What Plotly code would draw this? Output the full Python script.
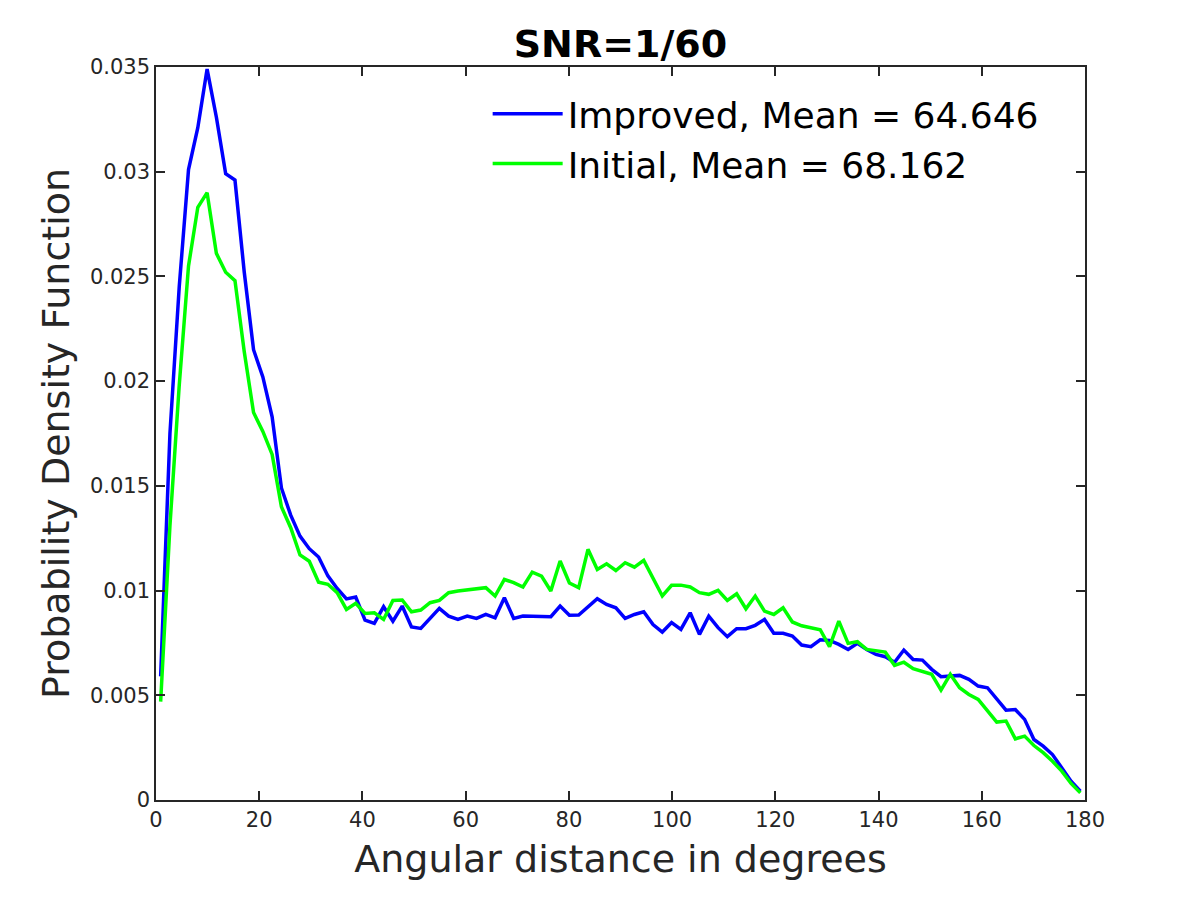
import plotly.graph_objects as go

# bin centres (degrees), 100 bins of 1.8 degrees
angles = [0.9, 2.7, 4.5, 6.3, 8.1, 9.9, 11.7, 13.5, 15.3, 17.1,
          18.9, 20.7, 22.5, 24.3, 26.1, 27.9, 29.7, 31.5, 33.3, 35.1,
          36.9, 38.7, 40.5, 42.3, 44.1, 45.9, 47.7, 49.5, 51.3, 53.1,
          54.9, 56.7, 58.5, 60.3, 62.1, 63.9, 65.7, 67.5, 69.3, 71.1,
          72.9, 74.7, 76.5, 78.3, 80.1, 81.9, 83.7, 85.5, 87.3, 89.1,
          90.9, 92.7, 94.5, 96.3, 98.1, 99.9, 101.7, 103.5, 105.3, 107.1,
          108.9, 110.7, 112.5, 114.3, 116.1, 117.9, 119.7, 121.5, 123.3, 125.1,
          126.9, 128.7, 130.5, 132.3, 134.1, 135.9, 137.7, 139.5, 141.3, 143.1,
          144.9, 146.7, 148.5, 150.3, 152.1, 153.9, 155.7, 157.5, 159.3, 161.1,
          162.9, 164.7, 166.5, 168.3, 170.1, 171.9, 173.7, 175.5, 177.3, 179.1]

improved = [0.0059, 0.0175, 0.0245, 0.0301, 0.0321, 0.0349, 0.0326, 0.0299, 0.0296, 0.0252,
            0.0215, 0.0202, 0.0183, 0.0149, 0.0136, 0.0126, 0.0120, 0.0116, 0.0107, 0.0101,
            0.0096, 0.00969, 0.00859, 0.00843, 0.00923, 0.00854, 0.00926, 0.00826, 0.00819, 0.0087,
            0.00915, 0.00878, 0.00862, 0.00878, 0.00867, 0.00886, 0.0087, 0.00966, 0.00867, 0.00878,
            0.00878, 0.00875, 0.00875, 0.00926, 0.00882, 0.00883, 0.00923, 0.00961, 0.00934, 0.00918,
            0.00867, 0.00886, 0.00899, 0.00838, 0.00802, 0.00847, 0.00815, 0.00894, 0.00791, 0.00878,
            0.00823, 0.0078, 0.00818, 0.00818, 0.00834, 0.00862, 0.00796, 0.00796, 0.00783, 0.0074,
            0.00732, 0.00765, 0.00762, 0.00743, 0.00719, 0.00748, 0.00719, 0.00695, 0.00684, 0.00658,
            0.00716, 0.00671, 0.00668, 0.00624, 0.00589, 0.00592, 0.00595, 0.00576, 0.00544, 0.00536,
            0.0048, 0.00429, 0.00432, 0.00385, 0.00289, 0.00257, 0.00217, 0.00154, 0.0009, 0.00042]

initial = [0.0047, 0.0131, 0.0198, 0.0255, 0.0283, 0.0290, 0.0261, 0.0252, 0.0248, 0.0214,
           0.0185, 0.0176, 0.0165, 0.0140, 0.0130, 0.0117, 0.0114, 0.0104, 0.0103, 0.0099,
           0.0091, 0.00939, 0.00891, 0.00894, 0.00862, 0.00953, 0.00955, 0.00899, 0.00907, 0.00942,
           0.00953, 0.0099, 0.00998, 0.01003, 0.01009, 0.01014, 0.00974, 0.01053, 0.01038, 0.01017,
           0.01088, 0.01069, 0.00998, 0.01141, 0.01036, 0.01014, 0.01197, 0.01101, 0.01128, 0.01096,
           0.01133, 0.01112, 0.01144, 0.01057, 0.00974, 0.01025, 0.01026, 0.01017, 0.0099, 0.00982,
           0.01001, 0.00953, 0.00985, 0.00913, 0.00974, 0.00902, 0.00886, 0.00918, 0.0085, 0.00832,
           0.00823, 0.00813, 0.00732, 0.00854, 0.00748, 0.00756, 0.00719, 0.00711, 0.00706, 0.00643,
           0.00658, 0.00627, 0.00615, 0.006, 0.00525, 0.006, 0.00536, 0.00504, 0.0048, 0.00424,
           0.00372, 0.00377, 0.00292, 0.00305, 0.0026, 0.00226, 0.00185, 0.00138, 0.00079, 0.00034]

series_names = ["Improved, Mean = 64.646", "Initial, Mean = 68.162"]
x_ticks = [0, 20, 40, 60, 80, 100, 120, 140, 160, 180]
y_ticks = [0, 0.005, 0.01, 0.015, 0.02, 0.025, 0.03, 0.035]
y_tick_labels = ["0", "0.005", "0.01", "0.015", "0.02", "0.025", "0.03", "0.035"]

FONT = "DejaVu Sans"
AX = "#262626"

fig = go.Figure()
fig.add_trace(go.Scatter(x=angles, y=improved, mode="lines", name=series_names[0],
                         line=dict(color="#0000FF", width=3.5)))
fig.add_trace(go.Scatter(x=angles, y=initial, mode="lines", name=series_names[1],
                         line=dict(color="#00FF00", width=3.5)))

axis_common = dict(showline=True, linecolor=AX, linewidth=1.5, mirror="ticks",
                   ticks="inside", ticklen=9, tickwidth=1.5, tickcolor=AX,
                   showgrid=False, zeroline=False,
                   tickfont=dict(family=FONT, size=21, color=AX))

fig.update_layout(
    width=1200, height=900,
    paper_bgcolor="white", plot_bgcolor="white",
    margin=dict(l=148, r=123, t=59, b=108),
    title=dict(text="<b>SNR=1/60</b>", x=(148 + 1077) / 2 / 1200, xanchor="center",
               y=1 - 36 / 900, yanchor="middle",
               font=dict(family=FONT, size=38, color="black")),
    xaxis=dict(range=[0, 180], tickvals=x_ticks,
               title=dict(text="Angular distance in degrees",
                          font=dict(family=FONT, size=38, color=AX), standoff=14),
               **axis_common),
    yaxis=dict(range=[0, 0.035], tickvals=y_ticks, ticktext=y_tick_labels,
               title=dict(text="Probability Density Function",
                          font=dict(family=FONT, size=38, color=AX), standoff=9),
               **axis_common),
    legend=dict(x=0.357, y=0.977, xanchor="left", yanchor="top",
                bgcolor="rgba(0,0,0,0)", borderwidth=0,
                font=dict(family=FONT, size=36, color="black"),
                itemwidth=70, tracegroupgap=0),
    showlegend=True,
)

fig.write_html("out.html")
